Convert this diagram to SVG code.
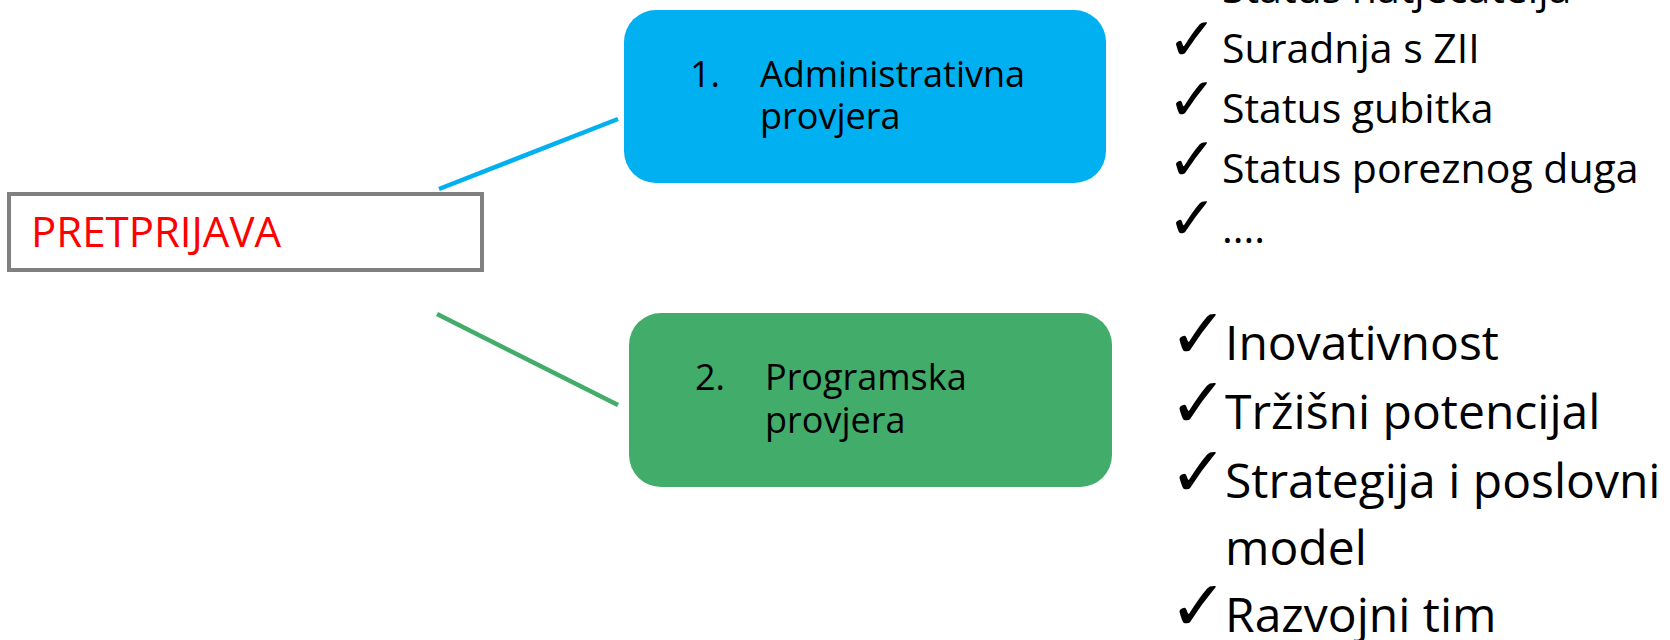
<svg xmlns="http://www.w3.org/2000/svg" width="1670" height="640" viewBox="0 0 1670 640">
<style>
.t{font-family:"Open Sans","Liberation Sans",sans-serif;fill:#000}
.ck{font-family:"DejaVu Sans",sans-serif;font-weight:bold;fill:#000}
.ck1{font-size:60px}
.ck2{font-size:70px}
.lst1{font-size:41px}
.lst2{font-size:48px}
.box{font-size:36px}
</style>
<rect width="1670" height="640" fill="#fff"/>
<g id="connectors" fill="none" stroke-width="4.5">
<line x1="439" y1="189" x2="618" y2="119" stroke="#00B0F0"/>
<line x1="437" y1="314" x2="618" y2="405" stroke="#42AC6A"/>
</g>
<g id="pretprijava">
<rect x="9" y="194" width="473" height="76" fill="#fff" stroke="#808080" stroke-width="4"/>
<text x="31" y="247" class="t" style="font-size:42px;fill:#ff0000">PRETPRIJAVA</text>
</g>
<g id="administrativna">
<rect x="624" y="10" width="482" height="173" rx="32" fill="#00B0F0"/>
<text class="t box" x="690" y="87">1.</text>
<text class="t box" x="760" y="87">Administrativna</text>
<text class="t box" x="760" y="129">provjera</text>
</g>
<g id="programska">
<rect x="629" y="313" width="483" height="174" rx="32" fill="#42AC6A"/>
<text class="t box" x="695" y="390">2.</text>
<text class="t box" x="765" y="390">Programska</text>
<text class="t box" x="765" y="433">provjera</text>
</g>
<g id="admin-list">
<text class="t lst1" x="1222" y="3">Status natjecatelja</text>
<text class="ck ck1" x="1167" y="60">✓</text>
<text class="t lst1" x="1222" y="63">Suradnja s ZII</text>
<text class="ck ck1" x="1167" y="120">✓</text>
<text class="t lst1" x="1222" y="123">Status gubitka</text>
<text class="ck ck1" x="1167" y="180">✓</text>
<text class="t lst1" x="1222" y="183">Status poreznog duga</text>
<text class="ck ck1" x="1167" y="239">✓</text>
<text class="t lst1" x="1222" y="243">....</text>
</g>
<g id="program-list">
<text class="ck ck2" x="1169" y="358">✓</text>
<text class="t lst2" x="1225" y="360">Inovativnost</text>
<text class="ck ck2" x="1169" y="427">✓</text>
<text class="t lst2" x="1225" y="429">Tržišni potencijal</text>
<text class="ck ck2" x="1169" y="496">✓</text>
<text class="t lst2" x="1225" y="498">Strategija i poslovni</text>
<text class="t lst2" x="1225" y="565">model</text>
<text class="ck ck2" x="1169" y="630">✓</text>
<text class="t lst2" x="1225" y="632">Razvojni tim</text>
</g>
</svg>
